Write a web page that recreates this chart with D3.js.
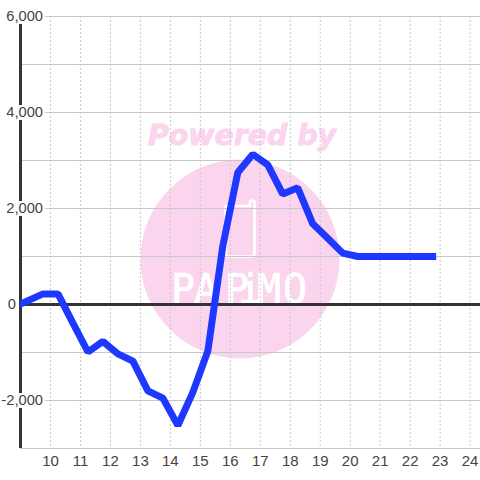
<!DOCTYPE html>
<html><head><meta charset="utf-8">
<script src="https://d3js.org/d3.v7.min.js"></script>
<style>html,body{margin:0;padding:0;background:#fff}svg{display:block}</style>
</head><body><svg id="c" width="480" height="480"></svg>
<script>
const hours = [9,9.75,10.25,10.75,11.25,11.75,12.25,12.75,13.25,13.75,14.25,14.75,15.25,15.75,16.25,16.75,17.25,17.75,18.25,18.75,19.25,19.75,20.25,20.75,21.25,21.75,22.25,22.75];
const values = [0,210,210,-400,-1000,-780,-1040,-1190,-1810,-1960,-2530,-1840,-980,1210,2740,3120,2900,2290,2420,1670,1370,1060,990,990,990,990,990,990];
const xTickValues = [10,11,12,13,14,15,16,17,18,19,20,21,22,23,24];
const yGridValues = [-3000,-2000,-1000,1000,2000,3000,4000,5000,6000];
const yLabelValues = [6000,4000,2000,0,-2000];
const logoText = 'PAPiMO';
const logoX = [171,194,225,238,257,283];

const svg = d3.select('#c');
const x = d3.scaleLinear().domain([9,24.33]).range([20.5,480]);
const y = d3.scaleLinear().domain([-3000,6000]).range([448,16]);
const fmt = v => d3.format(',')(v).replace('\u2212','-');
const ff = '"Liberation Sans", Arial, sans-serif';

// watermark
const wm = svg.append('g');
wm.append('circle').attr('cx',240).attr('cy',259).attr('r',99.5).attr('fill','#fbd5ee');
wm.append('text').attr('x',148).attr('y',145).attr('textLength',188).attr('lengthAdjust','spacingAndGlyphs')
  .attr('font-family','"DejaVu Sans"').attr('font-weight','bold').attr('font-style','italic').attr('font-size',29)
  .attr('fill','#fbd5ee').attr('stroke','#fbd5ee').attr('stroke-width',1).text('Powered by');
wm.append('path').attr('d','M225.500 256.500 V206 H250 V202.500 Q250 200.500 252.200 200.500 Q254.500 200.500 254.500 202.500 V254 Q254.500 256.500 252 256.500 Z')
  .attr('fill','none').attr('stroke','#fff').attr('stroke-width',2.6);
wm.append('text').attr('x',logoX.join(' ')).attr('y',303)
  .attr('font-family','"DejaVu Sans Mono"').attr('font-size',40).attr('fill','#fff').attr('stroke','#fff').attr('stroke-width',.7).text(logoText);

// grid
svg.append('g').selectAll('line').data(xTickValues).join('line')
  .attr('x1',d=>x(d)).attr('x2',d=>x(d)).attr('y1',16).attr('y2',448)
  .attr('stroke','#c8c8c8').attr('stroke-dasharray','2,2');
svg.append('g').selectAll('line').data(yGridValues).join('line')
  .attr('x1',20).attr('x2',480).attr('y1',d=>y(d)+.5).attr('y2',d=>y(d)+.5)
  .attr('stroke','#c8c8c8');

// axes
svg.append('line').attr('x1',20).attr('x2',480).attr('y1',y(0)+.5).attr('y2',y(0)+.5).attr('stroke','#333').attr('stroke-width',3);
svg.append('line').attr('x1',20.5).attr('x2',20.5).attr('y1',16).attr('y2',448).attr('stroke','#333').attr('stroke-width',3);

// series
svg.append('defs').append('clipPath').attr('id','p').append('rect').attr('x',20).attr('y',0).attr('width',460).attr('height',480);
svg.append('path').datum(hours.map((h,i)=>[h,values[i]]))
  .attr('clip-path','url(#p)')
  .attr('d',d3.line().x(d=>x(d[0])).y(d=>y(d[1])))
  .attr('fill','none').attr('stroke','#1f38ff').attr('stroke-width',7).attr('stroke-linejoin','bevel').attr('stroke-linecap','square');

// y labels with white boxes
const yl = svg.append('g').selectAll('g').data(yLabelValues).join('g');
yl.filter(d=>d!==0).append('rect').attr('x',0).attr('width',45).attr('y',d=>y(d)-7).attr('height',15).attr('fill','#fff');
yl.append('text').attr('x',d=>d===0?16:43).attr('y',d=>y(d)+5).attr('text-anchor','end')
  .attr('font-family',ff).attr('font-size',14.7).attr('fill','#444').text(d=>fmt(d));

svg.append('g').selectAll('text').data(xTickValues).join('text')
  .attr('x',d=>x(d)).attr('y',466).attr('text-anchor','middle')
  .attr('font-family',ff).attr('font-size',15).attr('fill','#444').text(d=>d);
</script></body></html>
